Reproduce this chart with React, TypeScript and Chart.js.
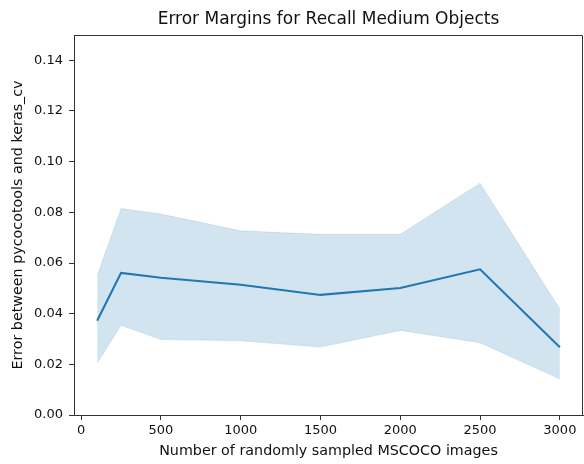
import React, { useEffect, useRef } from "react";
import { Chart, registerables } from "chart.js";
Chart.register(...registerables);

const sampleSizes = [100, 250, 500, 1000, 1500, 2000, 2500, 3000];
const meanError = [0.0372, 0.0561, 0.0542, 0.0514, 0.0474, 0.0501, 0.0575, 0.0267];
const upperBound = [0.0550, 0.0815, 0.0793, 0.0727, 0.0713, 0.0713, 0.0915, 0.0418];
const lowerBound = [0.0204, 0.0354, 0.0298, 0.0293, 0.0268, 0.0334, 0.0285, 0.0142];
const xTicks = [0, 500, 1000, 1500, 2000, 2500, 3000];
const yTicks = [0, 0.02, 0.04, 0.06, 0.08, 0.1, 0.12, 0.14];

const FONT = "'DejaVu Sans', sans-serif";
const LINE = "#1f77b4";
const BAND = "rgba(31,119,180,0.2)";
const AXIS = "#333";
const TEXT = "#111";

const framePlugin = {
  id: "frame",
  afterDraw(chart: any) {
    const { ctx, chartArea } = chart;
    ctx.save();
    ctx.strokeStyle = AXIS;
    ctx.lineWidth = 1;
    ctx.beginPath();
    ctx.moveTo(chartArea.left, chartArea.top + 0.5);
    ctx.lineTo(chartArea.right - 0.5, chartArea.top + 0.5);
    ctx.lineTo(chartArea.right - 0.5, chartArea.bottom);
    ctx.stroke();
    ctx.restore();
  },
};

export default function App() {
  const ref = useRef<HTMLCanvasElement | null>(null);
  useEffect(() => {
    if (!ref.current) return;
    const pts = (ys: number[]) => sampleSizes.map((x, i) => ({ x, y: ys[i] }));
    const chart = new Chart(ref.current, {
      type: "line",
      data: {
        datasets: [
          {
            label: "mean",
            data: pts(meanError),
            borderColor: LINE,
            borderWidth: 2.1,
            pointRadius: 0,
            fill: false,
            tension: 0,
          },
          {
            label: "upper",
            data: pts(upperBound),
            borderColor: "rgba(31,119,180,0.12)",
            borderWidth: 1,
            backgroundColor: BAND,
            pointRadius: 0,
            fill: "+1",
            tension: 0,
          },
          {
            label: "lower",
            data: pts(lowerBound),
            borderColor: "rgba(31,119,180,0.12)",
            borderWidth: 1,
            pointRadius: 0,
            fill: false,
            tension: 0,
          },
        ],
      },
      options: {
        animation: false,
        responsive: false,
        devicePixelRatio: 1,
        layout: { padding: { left: 0, right: 1, top: 0, bottom: 0 } },
        plugins: {
          legend: { display: false },
          tooltip: { enabled: false },
          title: {
            display: true,
            fullSize: false,
            text: "Error Margins for Recall Medium Objects",
            color: TEXT,
            font: { family: FONT, size: 17, weight: "normal", lineHeight: 1.2 },
            padding: { top: 9, bottom: 5.6 },
          },
        },
        scales: {
          x: {
            type: "linear",
            min: -45,
            max: 3145,
            afterBuildTicks: (s: any) => {
              s.ticks = xTicks.map((v) => ({ value: v }));
            },
            afterFit: (s: any) => {
              s.height = 49;
            },
            grid: { drawOnChartArea: false, drawTicks: true, tickLength: 5, tickColor: AXIS, tickWidth: 1 },
            border: { color: AXIS, width: 1 },
            ticks: {
              color: TEXT,
              font: { family: FONT, size: 13 },
              padding: 3,
              maxRotation: 0,
              autoSkip: false,
              callback: (v: any) => String(v),
            },
            title: {
              display: true,
              text: "Number of randomly sampled MSCOCO images",
              color: TEXT,
              font: { family: FONT, size: 14.3 },
              padding: { top: 0, bottom: 4 },
            },
          },
          y: {
            type: "linear",
            min: 0,
            max: 0.15,
            afterBuildTicks: (s: any) => {
              s.ticks = yTicks.map((v) => ({ value: v }));
            },
            afterFit: (s: any) => {
              s.width = 74;
            },
            grid: { drawOnChartArea: false, drawTicks: true, tickLength: 5, tickColor: AXIS, tickWidth: 1 },
            border: { color: AXIS, width: 1 },
            ticks: {
              color: TEXT,
              font: { family: FONT, size: 13 },
              padding: 6,
              autoSkip: false,
              callback: (v: any) => Number(v).toFixed(2),
            },
            title: {
              display: true,
              text: "Error between pycocotools and keras_cv",
              color: TEXT,
              font: { family: FONT, size: 14.3 },
              padding: { top: 10, bottom: 0 },
            },
          },
        },
      },
      plugins: [framePlugin],
    } as any);
    return () => chart.destroy();
  }, []);
  return (
    <div style={{ position: "absolute", left: 0, top: 0, width: 584, height: 464, background: "#fff" }}>
      <canvas ref={ref} width={584} height={464} style={{ display: "block" }} />
    </div>
  );
}
